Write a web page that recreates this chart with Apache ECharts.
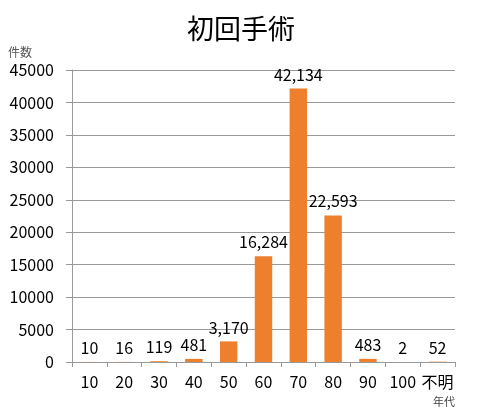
<!DOCTYPE html>
<html><head><meta charset="utf-8">
<script src="https://cdn.jsdelivr.net/npm/echarts@6/dist/echarts.min.js"></script>
<style>html,body{margin:0;padding:0;background:#fff}#c{width:483px;height:413px}</style>
</head><body><div id="c"></div>
<script>
const categories = ['10','20','30','40','50','60','70','80','90','100','不明'];
const counts = [10,16,119,481,3170,16284,42134,22593,483,2,52];
const yTicks = [0,5000,10000,15000,20000,25000,30000,35000,40000,45000];
const FONT = '"Noto Sans CJK JP","Open Sans",sans-serif';
const chart = echarts.init(document.getElementById('c'), null, {renderer:'canvas'});
chart.setOption({
  animation:false,
  textStyle:{fontFamily:FONT},
  title:{text:'初回手術',left:236,top:10,textAlign:'center',
    textStyle:{fontSize:27,fontWeight:'normal',color:'#000',fontFamily:FONT}},
  grid:{left:72,right:28,top:70,bottom:51,containLabel:false},
  xAxis:{type:'category',data:categories,name:'年代',nameLocation:'end',
    nameGap:0,
    nameTextStyle:{fontSize:11,color:'#444',align:'right',verticalAlign:'top',padding:[34,0,0,0]},
    axisLine:{lineStyle:{color:'#999'}},
    axisTick:{show:true,alignWithLabel:false,length:5,lineStyle:{color:'#999'}},
    axisLabel:{fontSize:16,color:'#000',margin:12,interval:0}},
  yAxis:{type:'value',min:0,max:45000,interval:5000,name:'件数',
    nameLocation:'end',nameGap:12,
    nameTextStyle:{fontSize:12,color:'#555',align:'left',padding:[0,0,0,-64]},
    axisLine:{show:true,lineStyle:{color:'#999'}},
    axisTick:{show:true,length:6,lineStyle:{color:'#999'}},
    axisLabel:{fontSize:16,color:'#000',margin:18,
      formatter:v=>yTicks.includes(v)?String(v):''},
    splitLine:{lineStyle:{color:'#999',width:1}}},
  series:[{type:'bar',data:counts,barWidth:'50%',
    itemStyle:{color:'#EE7F2C'},
    label:{show:true,position:'top',distance:6,fontSize:16,color:'#000',
      formatter:p=>p.value.toLocaleString('en-US')}}]
});
</script></body></html>
